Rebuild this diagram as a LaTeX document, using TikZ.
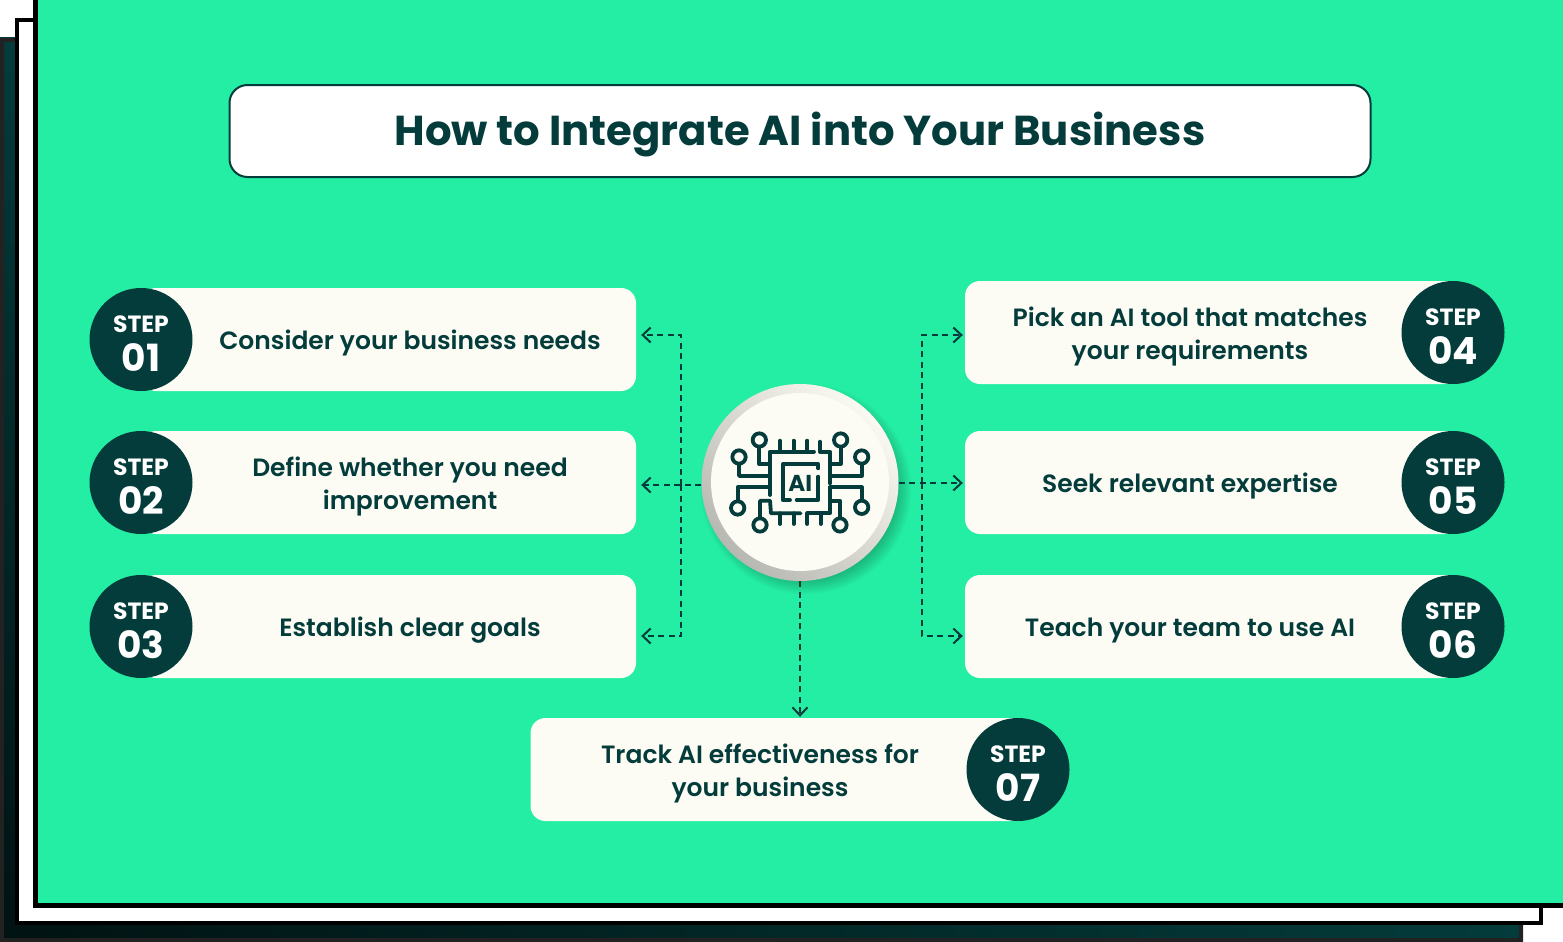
\documentclass[tikz,border=0pt]{standalone}
\usepackage{fontspec}
\setmainfont{Poppins}[UprightFont={* SemiBold},BoldFont={* Bold}]
\usetikzlibrary{arrows.meta,shadings}
\definecolor{mint}{HTML}{24EEA3}
\definecolor{deepteal}{HTML}{033C3B}
\definecolor{cream}{HTML}{FCFCF4}
\definecolor{edgegray}{HTML}{222222}
\tikzset{
	card/.style={fill=cream, rounded corners=15pt, minimum width=495pt, minimum height=103pt, inner sep=0pt},
	cardtext/.style={text=deepteal, align=center, font=\fontsize{25}{33}\selectfont},
	stepdot/.style={circle, fill=deepteal, text=white, minimum size=103pt, inner sep=0pt, align=center},
	link/.style={deepteal, line width=1.6pt, dash pattern=on 6pt off 4.5pt, -{Straight Barb[length=8pt,width=15pt,line width=2pt]}},
	trace/.style={deepteal, line width=3.8pt, line cap=round, line join=round},
	pad/.style={deepteal, line width=3.8pt}
}
\newcommand{\steplabel}[1]{\rule{0pt}{25pt}{\fontsize{23.5}{23.5}\selectfont\bfseries STEP}\\[10pt]{\fontsize{37.5}{37.5}\selectfont\bfseries #1}}
\begin{document}
\begin{tikzpicture}[x=1pt,y=-1pt]
	\useasboundingbox (0,0) rectangle (1563,942);
	\fill [white] (0,0) rectangle (1563,942);

	\shade [lower left=black!70!deepteal, upper left=deepteal, lower right=deepteal, upper right=deepteal] (0,38) rectangle (1523,942);
	\draw [edgegray, line width=4.5pt] (2.2,40.2) rectangle (1520.8,939.8);
	\draw [black, line width=4.5pt, fill=white] (17.2,20.2) rectangle (1540.8,923);
	\draw [black, line width=5pt, fill=mint] (35.5,-5) rectangle (1570,905);

	\node [draw=deepteal, line width=2pt, fill=white, rounded corners=18pt, minimum width=1141pt, minimum height=92pt, text=deepteal, text height=37pt, text depth=8pt, font=\fontsize{41.8}{50}\selectfont\bfseries] (title) at (800,131) {How to Integrate AI into Your Business};

	\node [card] (card1) at (388.5,339.5) {};
	\node [card] (card2) at (388.5,482.5) {};
	\node [card] (card3) at (388.5,626.5) {};
	\node [card] (card4) at (1212.5,332.5) {};
	\node [card] (card5) at (1212.5,482.5) {};
	\node [card] (card6) at (1212.5,626.5) {};
	\node [card] (card7) at (778,769.5) {};

	\node [cardtext] (text1) at (410,343) {Consider your business needs};
	\node [cardtext] (text2) at (410,486.5) {Define whether you need\\improvement};
	\node [cardtext] (text3) at (410,630) {Establish clear goals};
	\node [cardtext] (text4) at (1190,336.5) {Pick an AI tool that matches\\your requirements};
	\node [cardtext] (text5) at (1190,486) {Seek relevant expertise};
	\node [cardtext] (text6) at (1190,630.5) {Teach your team to use AI};
	\node [cardtext] (text7) at (760,773.5) {Track AI effectiveness for\\your business};

	\node [stepdot] (dot1) at (141,339.5) {\steplabel{01}};
	\node [stepdot] (dot2) at (141,482.5) {\steplabel{02}};
	\node [stepdot] (dot3) at (141,626.5) {\steplabel{03}};
	\node [stepdot] (dot4) at (1453,332.5) {\steplabel{04}};
	\node [stepdot] (dot5) at (1453,482.5) {\steplabel{05}};
	\node [stepdot] (dot6) at (1453,626.5) {\steplabel{06}};
	\node [stepdot] (dot7) at (1018,769.5) {\steplabel{07}};

	\foreach \r in {1,...,12} {
		\fill [black, opacity=0.025] (806,489) circle (86+1.6*\r);
	}
	\shade [left color=black!1!cream, right color=black!27!cream, shading angle=-45] (800,482.5) circle (98.5);
	\node [circle, fill=cream, minimum size=178pt, inner sep=0pt] (hub) at (800,482) {};
	\node [circle, minimum size=197pt, inner sep=0pt] (hubrim) at (800,482.5) {};

	\coordinate (leftbus) at (681,485);
	\coordinate (rightbus) at (922,483);
	\draw [link] (hubrim.west |- leftbus) -- ([xshift=5pt]card2.east |- leftbus);
	\draw [link] (leftbus) |- ([xshift=5pt,yshift=4.5pt]card1.east);
	\draw [link] (leftbus) |- ([xshift=5pt,yshift=-9.5pt]card3.east);
	\draw [link] (hubrim.east |- rightbus) -- ([xshift=-2pt]card5.west |- rightbus);
	\draw [link] (rightbus) |- ([xshift=-2pt,yshift=-2.5pt]card4.west);
	\draw [link] (rightbus) |- ([xshift=-2pt,yshift=-9.5pt]card6.west);
	\draw [link] (hubrim.south) -- ([yshift=1pt]hubrim.south |- card7.north);

	\begin{scope}[shift={(690,370)},x=0.3333pt,y=-0.3333pt]
		\draw [trace] (372,245) -- (240,245) -- (240,375);
		\draw [trace] (390,215) -- (390,245) -- (420,245) -- (420,340);
		\draw [trace] (420,352) -- (420,430) -- (352,430);
		\draw [trace] (210,443) -- (210,392) -- (240,392) -- (243,430) -- (332,430);
		\draw [trace] (270,212) -- (270,245);
		\draw [trace] (311,212) -- (311,245);
		\draw [trace] (352,212) -- (352,245);
		\draw [trace] (270,430) -- (270,462);
		\draw [trace] (311,430) -- (311,462);
		\draw [trace] (352,430) -- (352,462);
		\draw [trace] (392,430) -- (392,462);
		\draw [trace] (147,283) -- (147,318) -- (240,318);
		\draw [trace] (515,283) -- (515,318) -- (420,318);
		\draw [trace] (143,392) -- (143,352) -- (240,352);
		\draw [trace] (515,390) -- (515,352) -- (420,352);
		\draw [trace] (208,232) -- (208,282) -- (240,282);
		\draw [trace] (452,232) -- (452,282) -- (420,282);
		\draw [trace] (450,443) -- (450,392) -- (420,392);
		\draw [trace] (385,295) -- (385,283) -- (278,283) -- (278,390) -- (300,390);
		\draw [trace] (320,390) -- (385,390) -- (385,320);
		\draw [pad] (208,210) circle (20);
		\draw [pad] (147,261) circle (20);
		\draw [pad] (452,210) circle (20);
		\draw [pad] (515,261) circle (20);
		\draw [pad] (143,414) circle (20);
		\draw [pad] (210,465) circle (20);
		\draw [pad] (450,465) circle (20);
		\draw [pad] (515,412) circle (20);
		\node [text=deepteal, font=\fontsize{23}{23}\selectfont\bfseries, inner sep=0pt] (chiplabel) at (331,341) {AI};
	\end{scope}
\end{tikzpicture}
\end{document}
